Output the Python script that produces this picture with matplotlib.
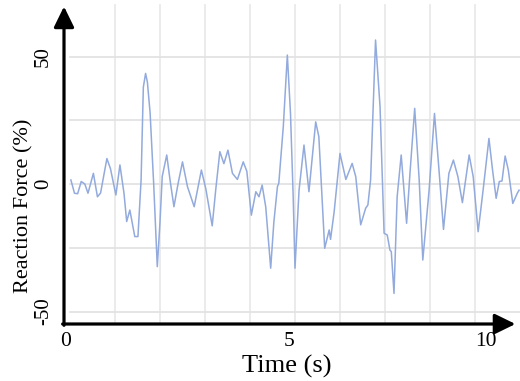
import numpy as np
import matplotlib
matplotlib.use("Agg")
import matplotlib.pyplot as plt

plt.rcParams['font.family'] = ['Liberation Serif', 'DejaVu Serif']

# time (s) and reaction force (%)
time_s = [0.02, 0.10, 0.17, 0.25, 0.33, 0.40, 0.52, 0.61, 0.68, 0.82, 0.90,
          1.02, 1.11, 1.20, 1.26, 1.33, 1.44, 1.51, 1.58, 1.63, 1.68, 1.72,
          1.78, 1.86, 1.94, 2.00, 2.05, 2.15, 2.22, 2.31, 2.40, 2.50, 2.61,
          2.76, 2.92, 3.02, 3.16, 3.24, 3.33, 3.42, 3.51, 3.61, 3.72, 3.85,
          3.93, 4.03, 4.13, 4.20, 4.27, 4.35, 4.46, 4.53, 4.61, 4.64, 4.74,
          4.83, 4.90, 4.96, 5.00, 5.09, 5.20, 5.31, 5.46, 5.53, 5.66, 5.76,
          5.79, 5.87, 6.00, 6.13, 6.27, 6.35, 6.46, 6.57, 6.62, 6.68, 6.79,
          6.89, 6.98, 7.05, 7.11, 7.14, 7.20, 7.27, 7.36, 7.48, 7.56, 7.66,
          7.76, 7.84, 7.98, 8.10, 8.20, 8.30, 8.42, 8.52, 8.62, 8.72, 8.87,
          8.96, 9.07, 9.18, 9.31, 9.39, 9.47, 9.54, 9.60, 9.67, 9.74, 9.84,
          9.94, 9.98]
force = [1.6, -3.6, -3.8, 1.0, 0.0, -3.6, 4.2, -5.0, -3.5, 10.0, 6.0,
         -4.3, 7.5, -3.6, -14.7, -10.2, -20.6, -20.6, 1.6, 38.0, 43.4, 40.0,
         28.0, 0.0, -32.4, -15.0, 3.0, 11.4, 2.0, -8.9, 0.0, 8.7, -1.0,
         -8.9, 5.5, -2.0, -16.4, -2.0, 12.7, 8.0, 13.3, 4.2, 1.8, 8.7,
         5.0, -12.2, -3.0, -5.0, -0.4, -9.0, -33.0, -15.0, -1.0, 0.3, 22.5,
         50.6, 27.7, -5.0, -33.0, -2.4, 15.3, -3.0, 24.4, 18.6, -25.2, -18.0,
         -21.7, -10.9, 12.0, 1.8, 8.1, 2.9, -16.0, -9.5, -8.2, 1.6, 56.5,
         30.3, -19.3, -20.0, -25.9, -26.5, -42.9, -5.0, 11.4, -15.4, 5.5, 29.7,
         1.6, -29.8, -2.4, 27.7, 5.5, -17.8, 4.2, 9.4, 2.9, -7.3, 11.4,
         2.9, -18.7, -2.4, 17.9, 5.5, -5.6, 1.0, 1.2, 11.0, 5.5, -7.6,
         -3.6, -2.4]

x_tick_pos = [-0.09, 4.87, 9.24]
x_tick_labels = ['0', '5', '10']
y_ticks = [-50, 0, 50]

fig = plt.figure(figsize=(5.2, 3.81), dpi=100)
ax = fig.add_axes([64/520, 1 - 324/381, 456/520, 324/381])

# grid
for g in range(1, 10):
    ax.axvline(g, ymax=0.985, color='#e8e8e8', lw=1.2, zorder=0)
for g in [-50, -25, 0, 25, 50]:
    ax.axhline(g, xmin=0.013, color='#e3e3e3', lw=1.3, zorder=0)

ax.plot(time_s, force, color='#93aadd', lw=1.1, solid_joinstyle='round')

ax.set_xlim(-0.133, 10.0)
ax.set_ylim(-54.9, 72.2)
for s in ax.spines.values():
    s.set_visible(False)

ax.set_xticks(x_tick_pos)
ax.set_xticklabels(x_tick_labels, fontsize=15.5)
ax.set_yticks(y_ticks)
ax.set_yticklabels([str(v) for v in y_ticks], fontsize=15, rotation=90, va='center')
ax.tick_params(length=0)
ax.tick_params(axis='x', pad=6)
ax.tick_params(axis='y', pad=8)

# arrow axes
arw = dict(arrowstyle='-|>,head_length=0.45,head_width=0.22', lw=2.3,
           color='k', mutation_scale=28, shrinkA=0, shrinkB=0)
ax.annotate('', xy=(0, 0.98), xytext=(0, -0.004), xycoords='axes fraction',
            arrowprops=arw, annotation_clip=False)
ax.annotate('', xy=(0.99, 0), xytext=(-0.003, 0), xycoords='axes fraction',
            arrowprops=arw, annotation_clip=False)

fig.text(287/520, 1 - 366/381, 'Time (s)', fontsize=19, ha='center', va='center')
fig.text(24/520, 1 - 206/381, 'Reaction Force (%)', fontsize=16,
         rotation=90, ha='center', va='center')

fig.savefig('out.png', dpi=100)
